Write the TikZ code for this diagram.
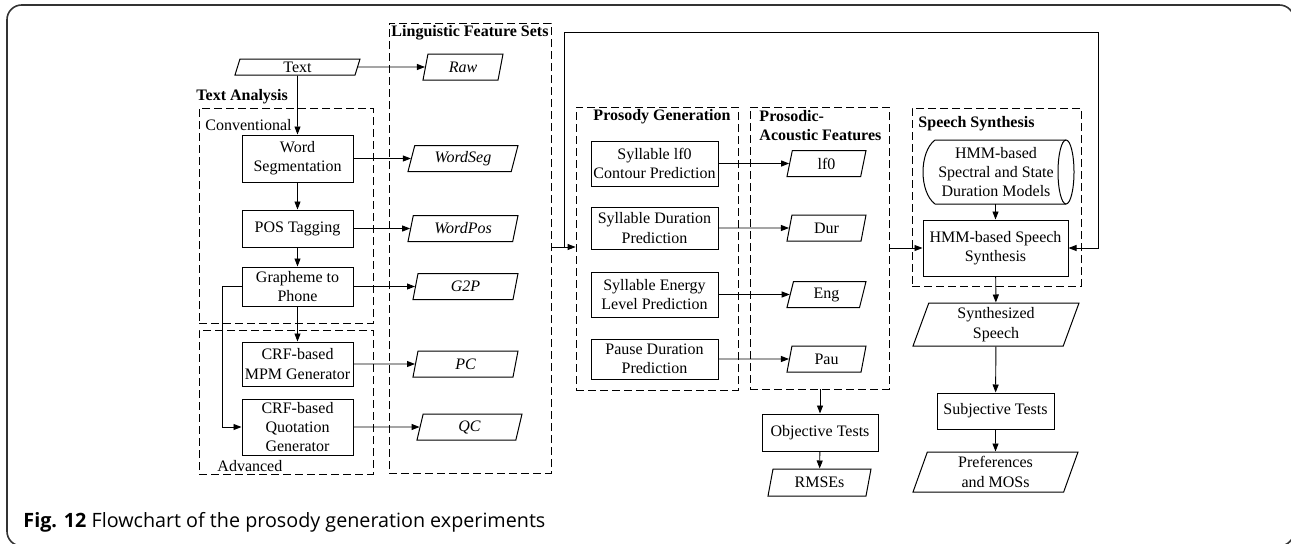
\documentclass[tikz,border=0pt]{standalone}
\usepackage{fontspec}
\setmainfont{Liberation Serif}
\newfontfamily\capfont{Open Sans}
\usetikzlibrary{shapes.geometric,arrows.meta,fit}
\begin{document}
\begin{tikzpicture}[x=0.75pt,y=-0.75pt,
  font=\fontsize{12}{14.5}\selectfont,
  line width=0.7pt,
  box/.style={draw, rectangle, align=center, inner sep=1pt, line width=0.75pt},
  para/.style={draw, trapezium, trapezium left angle=65, trapezium right angle=115,
    trapezium stretches body, align=center, inner xsep=1pt, inner ysep=0pt, line width=0.75pt},
  grp/.style={draw, dash pattern=on 6pt off 3pt, inner sep=0pt, line width=0.6pt},
  arr/.style={-{Triangle[length=6pt,width=4.5pt]}},
  lbl/.style={font=\fontsize{12}{14.5}\selectfont\bfseries, inner sep=0pt, align=left},
  sub/.style={inner sep=0pt}
]
\useasboundingbox (0,0) rectangle (1291,543);
\clip (0,0) rectangle (1291,543);
\draw[line width=1.2pt, draw=black!80, rounded corners=11pt] (7,5) rectangle (1294,546);

% group boxes
\node[grp, fit={(199,108) (373,323)}] (conv) {};
\node[grp, fit={(199,330) (373,474)}] (adv) {};
\node[grp, fit={(389,23) (551,473)}] (lfs) {};
\node[grp, fit={(576,107) (738,390)}] (pgb) {};
\node[grp, fit={(750,107) (889,389)}] (paf) {};
\node[grp, fit={(912,108) (1081,286)}] (ssb) {};

% labels
\node[lbl, anchor=west] (tal) at (196,97) {Text Analysis};
\node[sub, anchor=west] (convl) at (205,125) {Conventional};
\node[sub, anchor=west] (advl) at (217,466) {Advanced};
\node[lbl] (lfsl) at (470,33) {Linguistic Feature Sets};
\node[lbl] (pgl) at (662,117) {Prosody Generation};
\node[lbl, anchor=north west] (pafl) at (759,110) {Prosodic-\\Acoustic Features};
\node[lbl, anchor=west] (ssl) at (918,124) {Speech Synthesis};

% text analysis
\node[para, minimum width=93.75pt, minimum height=12pt] (text) at (297.5,67) {Text};
\node[box, minimum width=83.25pt, minimum height=35.25pt] (ws) at (297.5,158.5) {Word\\Segmentation};
\node[box, minimum width=83.25pt, minimum height=27.75pt] (pos) at (297.5,228.5) {POS Tagging};
\node[box, minimum width=83.25pt, minimum height=29.25pt] (g2p) at (297.5,286.5) {Grapheme to\\Phone};
\node[box, minimum width=83.25pt, minimum height=33pt] (mpm) at (297.5,364) {CRF-based\\MPM Generator};
\node[box, minimum width=83.25pt, minimum height=42pt] (quo) at (297.5,427) {CRF-based\\Quotation\\Generator};

% linguistic features
\node[para, minimum width=60pt, minimum height=19.5pt] (raw) at (463,67) {\itshape Raw};
\node[para, minimum width=82.5pt, minimum height=19.5pt] (wseg) at (463,158.5) {\itshape WordSeg};
\node[para, minimum width=82.5pt, minimum height=19.5pt] (wpos) at (463,228.5) {\itshape WordPos};
\node[para, minimum width=78.75pt, minimum height=19.5pt] (g2pf) at (465.5,286.5) {\itshape G2P};
\node[para, minimum width=78.75pt, minimum height=19.5pt] (pc) at (465.5,364) {\itshape PC};
\node[para, minimum width=78.75pt, minimum height=19.5pt] (qc) at (469.5,427) {\itshape QC};

% prosody generation
\node[box, minimum width=95.25pt, minimum height=33.75pt] (lf0c) at (654.5,163.5) {Syllable lf0\\Contour Prediction};
\node[box, minimum width=95.25pt, minimum height=31.5pt] (durp) at (654.5,228) {Syllable Duration\\Prediction};
\node[box, minimum width=95.25pt, minimum height=33.75pt] (engp) at (654.5,294.5) {Syllable Energy\\Level Prediction};
\node[box, minimum width=95.25pt, minimum height=30pt] (paup) at (654.5,359) {Pause Duration\\Prediction};

% prosodic-acoustic features
\node[para, minimum width=59.25pt, minimum height=19.5pt] (lf0) at (826.5,163.5) {lf0};
\node[para, minimum width=59.25pt, minimum height=19.5pt] (dur) at (826.5,228) {Dur};
\node[para, minimum width=59.25pt, minimum height=19.5pt] (eng) at (826.5,294.5) {Eng};
\node[para, minimum width=59.25pt, minimum height=19.5pt] (pau) at (826.5,359) {Pau};
\node[box, minimum width=87pt, minimum height=27.75pt] (obj) at (820,432.5) {Objective Tests};
\node[para, minimum width=77.25pt, minimum height=20.25pt] (rmse) at (819.5,482.5) {RMSEs};

% speech synthesis: horizontal cylinder (store)
\node[rectangle, inner sep=0pt, minimum width=111pt, minimum height=48pt, align=center] (cyl) at (996,172)
  {HMM-based\\Spectral and State\\Duration Models};
\draw[line width=0.75pt] (1066,140) -- (935,140) .. controls (919,152) and (919,192) .. (935,204) -- (1066,204);
\draw[line width=0.75pt] (1066,172) ellipse [x radius=8, y radius=32];
\node[box, minimum width=108.75pt, minimum height=42pt] (hmm) at (995.5,248) {HMM-based Speech\\Synthesis};
\node[para, minimum width=124.5pt, minimum height=32.25pt] (synth) at (996,324.5) {Synthesized\\Speech};
\node[box, minimum width=87.75pt, minimum height=27pt] (subj) at (995.5,411) {Subjective Tests};
\node[para, minimum width=123.75pt, minimum height=30pt] (pref) at (995.5,472) {Preferences\\and MOSs};

% connectors
\draw[arr] (text) -- (ws);
\draw[arr] (ws) -- (pos);
\draw[arr] (pos) -- (g2p);
\draw[arr] (g2p) -- (mpm);
\draw[arr] (g2p.west) -- ++(-19,0) |- (quo.west);
\draw[arr] (text) -- (raw);
\draw[arr] (ws) -- (wseg);
\draw[arr] (pos) -- (wpos);
\draw[arr] (g2p) -- (g2pf);
\draw[arr] (mpm) -- (pc);
\draw[arr] (quo) -- (qc);

\coordinate (j1) at (564,247);
\coordinate (j2) at (1098,32);
\draw (lfs.east |- j1) -- (j1);
\draw[arr] (j1) -- (pgb.west |- j1);
\draw[arr] (j1) |- (j2) |- (hmm.east);

\draw[arr] (lf0c) -- (lf0);
\draw[arr] (durp) -- (dur);
\draw[arr] (engp) -- (eng);
\draw[arr] (paup) -- (pau);
\draw[arr] (obj.north |- paf.south) -- (obj.north);
\draw[arr] (obj) -- (rmse);

\draw[arr] (paf.east |- hmm.west) -- (hmm.west);
\draw[arr] (hmm.north |- cyl.south) -- (hmm.north);
\draw[arr] (hmm) -- (synth);
\draw[arr] (synth) -- (subj);
\draw[arr] (subj) -- (pref);

% caption
\node[anchor=base west, inner sep=0pt, font=\capfont\fontsize{14.8}{17}\selectfont] (cap) at (23,527)
  {\textbf{Fig. 12} Flowchart of the prosody generation experiments};
\end{tikzpicture}
\end{document}
